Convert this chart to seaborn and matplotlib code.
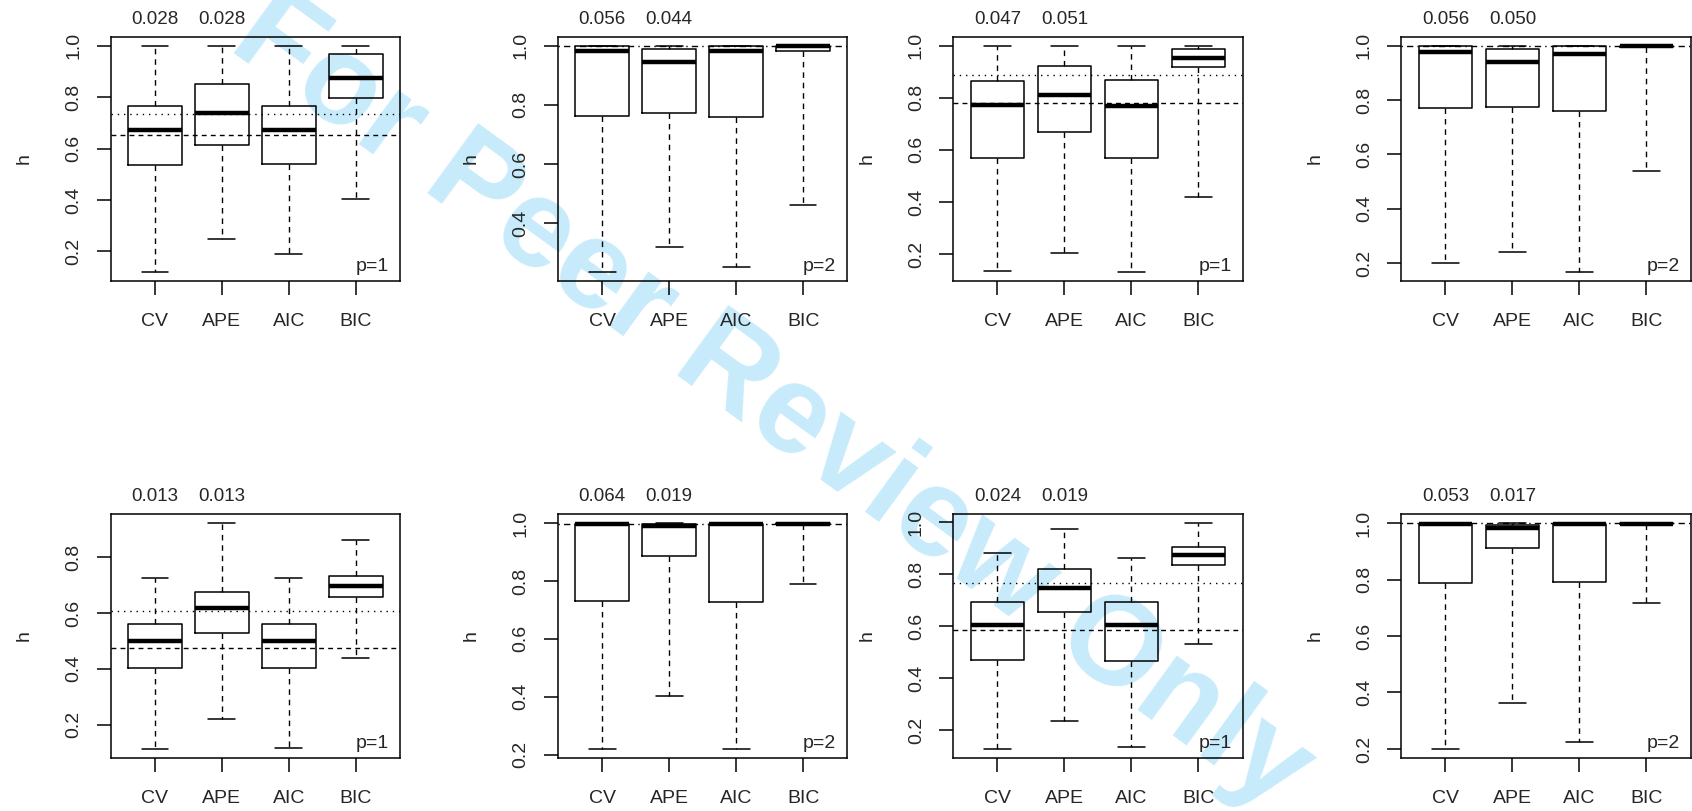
import numpy as np
import pandas as pd
import matplotlib
matplotlib.use("Agg")
import matplotlib.pyplot as plt
import seaborn as sns
from matplotlib.ticker import MultipleLocator, FormatStrFormatter

# Methods on the x axis
methods = ["CV", "APE", "AIC", "BIC"]

# Box summaries per panel, one row per method:
# lower whisker, lower hinge, median, upper hinge, upper whisker
h_panel1 = [[0.121, 0.535, 0.673, 0.764, 1.000],
            [0.247, 0.614, 0.739, 0.851, 1.000],
            [0.191, 0.538, 0.674, 0.764, 1.000],
            [0.403, 0.795, 0.873, 0.969, 1.000]]
h_panel2 = [[0.236, 0.761, 0.982, 0.998, 1.000],
            [0.319, 0.771, 0.946, 0.989, 1.000],
            [0.253, 0.759, 0.982, 0.998, 1.000],
            [0.463, 0.983, 0.998, 1.000, 1.000]]
h_panel3 = [[0.135, 0.568, 0.772, 0.864, 1.000],
            [0.205, 0.667, 0.810, 0.921, 1.000],
            [0.132, 0.567, 0.768, 0.867, 1.000],
            [0.418, 0.918, 0.954, 0.986, 1.000]]
h_panel4 = [[0.201, 0.771, 0.977, 0.999, 1.000],
            [0.239, 0.774, 0.939, 0.988, 1.000],
            [0.168, 0.758, 0.969, 0.999, 1.000],
            [0.538, 0.997, 0.999, 1.000, 1.000]]
h_panel5 = [[0.113, 0.402, 0.501, 0.559, 0.726],
            [0.219, 0.527, 0.617, 0.674, 0.922],
            [0.118, 0.404, 0.501, 0.559, 0.724],
            [0.440, 0.657, 0.695, 0.731, 0.860]]
h_panel6 = [[0.220, 0.731, 0.995, 0.998, 1.000],
            [0.403, 0.886, 0.991, 0.995, 1.000],
            [0.220, 0.728, 0.995, 0.997, 1.000],
            [0.789, 0.997, 0.998, 1.000, 1.000]]
h_panel7 = [[0.128, 0.468, 0.603, 0.692, 0.881],
            [0.236, 0.653, 0.745, 0.819, 0.974],
            [0.137, 0.465, 0.605, 0.694, 0.860],
            [0.531, 0.833, 0.872, 0.903, 0.996]]
h_panel8 = [[0.200, 0.788, 0.995, 0.998, 1.000],
            [0.362, 0.913, 0.982, 0.993, 1.000],
            [0.226, 0.792, 0.995, 0.996, 1.000],
            [0.716, 0.997, 0.998, 1.000, 1.000]]
panels = [h_panel1, h_panel2, h_panel3, h_panel4,
          h_panel5, h_panel6, h_panel7, h_panel8]

# Numbers printed above CV and APE
top_cv = ["0.028", "0.056", "0.047", "0.056", "0.013", "0.064", "0.024", "0.053"]
top_ape = ["0.028", "0.044", "0.051", "0.050", "0.013", "0.019", "0.019", "0.017"]
p_labels = ["p=1", "p=2", "p=1", "p=2", "p=1", "p=2", "p=1", "p=2"]

# Reference lines
dotted_h = [0.735, None, 0.888, None, 0.606, None, 0.765, None]
dashed_h = [0.651, None, 0.781, None, 0.476, None, 0.586, None]
dotdash_h = [None, 0.998, None, 0.998, None, 0.998, None, 0.999]

sns.set_theme(style="ticks")
plt.rcParams["font.family"] = ["Liberation Sans", "DejaVu Sans"]
plt.rcParams["axes.linewidth"] = 1.1

W, H = 1692, 811
fig = plt.figure(figsize=(W / 100, H / 100), dpi=100)

# axes boxes in pixels (left, top, width, height)
lefts = [110.7, 558.0, 953.3, 1401.3]
tops = [36.7, 514.0]
box_w, box_h = 289.3, 244.0

# watermark
fig.text(0.456, 0.503, "For Peer Review Only", fontsize=91, fontweight="bold",
         color="#c8ebfb", rotation=-36, ha="center", va="center",
         rotation_mode="anchor", zorder=-1)

for k, stats in enumerate(panels):
    row, col = divmod(k, 4)
    l, t = lefts[col], tops[row]
    ax = fig.add_axes([l / W, 1 - (t + box_h) / H, box_w / W, box_h / H])
    ax.set_facecolor("none")

    df = pd.DataFrame({
        "method": np.repeat(methods, 5),
        "h": np.ravel(stats),
    })
    sns.boxplot(data=df, x="method", y="h", order=methods, ax=ax,
                whis=(0, 100), fill=False, color="black", width=0.8,
                linewidth=1.1,
                medianprops=dict(linewidth=3.2, solid_capstyle="butt"),
                whiskerprops=dict(linestyle=(0, (4, 3.5)), linewidth=1.0),
                capprops=dict(linewidth=1.1))

    if dotted_h[k] is not None:
        ax.axhline(dotted_h[k], color="black", lw=1.0, ls=(0, (1, 3.5)))
    if dashed_h[k] is not None:
        ax.axhline(dashed_h[k], color="black", lw=1.0, ls=(0, (3.5, 3)))
    if dotdash_h[k] is not None:
        ax.axhline(dotdash_h[k], color="black", lw=1.0, ls=(0, (1, 3, 4.5, 3)))

    lo = min(s[0] for s in stats)
    hi = max(s[4] for s in stats)
    r = hi - lo
    ax.set_ylim(lo - 0.04 * r, hi + 0.04 * r)
    ax.set_xlim(-0.66, 3.66)

    ax.yaxis.set_major_locator(MultipleLocator(0.2))
    ax.yaxis.set_major_formatter(FormatStrFormatter("%.1f"))
    ax.tick_params(axis="both", length=10, width=1.1, labelsize=14, color="black")
    ax.tick_params(axis="x", pad=13)
    ax.tick_params(axis="y", labelrotation=90, pad=10.5)
    for lab in ax.get_yticklabels():
        lab.set_va("center")

    ax.set_xlabel("")
    ax.set_ylabel("h", fontsize=14)
    ax.yaxis.set_label_coords(-0.27, 0.5)
    for sp in ax.spines.values():
        sp.set_visible(True)
        sp.set_color("black")

    ax.annotate(top_cv[k], xy=(0, 1), xycoords=("data", "axes fraction"),
                xytext=(0, 9.5), textcoords="offset points",
                ha="center", va="baseline", fontsize=13.5)
    ax.annotate(top_ape[k], xy=(1, 1), xycoords=("data", "axes fraction"),
                xytext=(0, 9.5), textcoords="offset points",
                ha="center", va="baseline", fontsize=13.5)
    ax.annotate(p_labels[k], xy=(1, 0), xycoords="axes fraction",
                xytext=(-8, 7), textcoords="offset points",
                ha="right", va="baseline", fontsize=14)

fig.savefig("out.png", dpi=100)
